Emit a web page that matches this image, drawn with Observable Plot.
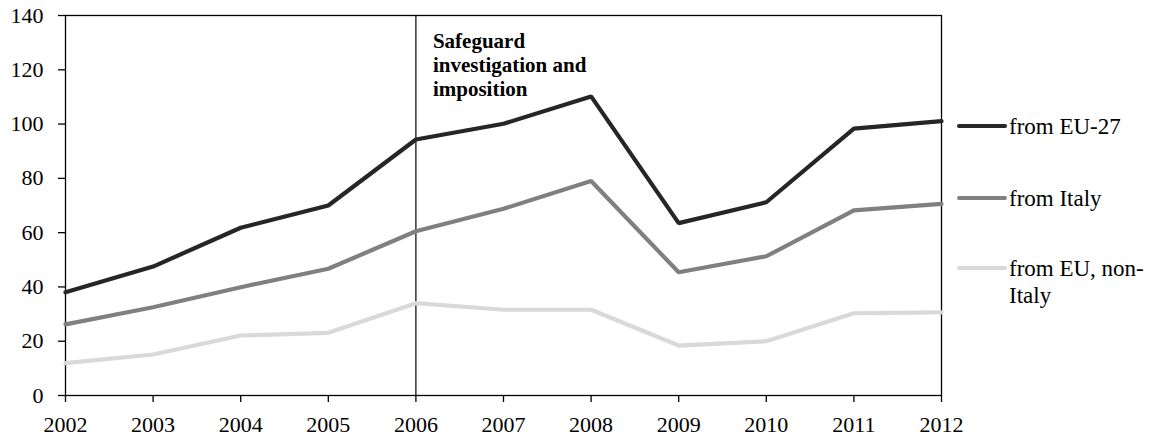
<!DOCTYPE html>
<html>
<head>
<meta charset="utf-8">
<script src="https://cdn.jsdelivr.net/npm/d3@7"></script>
<script src="https://cdn.jsdelivr.net/npm/@observablehq/plot@0.6"></script>
<style>
  body { margin: 0; background: #fff; }
  #wrap { position: relative; width: 1154px; height: 439px; font-family: "Liberation Serif", "Times New Roman", serif; }
  .leg { position: absolute; left: 957px; display: flex; align-items: flex-start; font-size: 23px; line-height: 27px; color: #000; }
  .leg .sw { width: 50px; height: 4px; margin-top: 11px; margin-right: 2px; border-radius: 2px; flex: none; }
  .leg .tx { width: 145px; }
</style>
</head>
<body>
<div id="wrap"></div>
<script>
const years = [2002, 2003, 2004, 2005, 2006, 2007, 2008, 2009, 2010, 2011, 2012];
const eu27 = [38.0, 47.5, 61.8, 70.0, 94.3, 100.1, 110.2, 63.5, 71.2, 98.3, 101.1];
const italy = [26.2, 32.5, 39.9, 46.7, 60.5, 68.8, 79.0, 45.4, 51.3, 68.2, 70.6];
const nonItaly = [11.9, 15.1, 22.1, 23.1, 34.0, 31.6, 31.6, 18.4, 20.0, 30.3, 30.6];
const seriesNames = ["from EU-27", "from Italy", "from EU, non-Italy"];
const seriesColors = ["#262626", "#808080", "#d9d9d9"];
const yTicks = [0, 20, 40, 60, 80, 100, 120, 140];
const eventYear = 2006;
const eventLabel = "Safeguard\ninvestigation and\nimposition";

const seriesValues = [eu27, italy, nonItaly];
const rows = [];
seriesNames.forEach((name, i) => {
  years.forEach((yr, j) => rows.push({series: name, year: yr, value: seriesValues[i][j]}));
});

const font = '"Liberation Serif", "Times New Roman", serif';
const chart = Plot.plot({
  width: 1154,
  height: 439,
  marginLeft: 65,
  marginRight: 213,
  marginTop: 15,
  marginBottom: 44,
  style: {fontFamily: font, fontSize: "22px", color: "#000", background: "#fff"},
  x: {type: "linear", domain: [2002, 2012]},
  y: {domain: [0, 140]},
  color: {domain: seriesNames, range: seriesColors},
  marks: [
    Plot.frame({stroke: "#000", strokeWidth: 1.3}),
    Plot.ruleX([eventYear], {stroke: "#000", strokeWidth: 1.2}),
    Plot.text([eventYear], {x: d => d, frameAnchor: "top", text: () => eventLabel, textAnchor: "start", lineAnchor: "top", dx: 17, dy: 15, fontWeight: "bold", fontSize: 21, lineHeight: 1.15, fill: "#000"}),
    [...seriesNames].reverse().map(name =>
      Plot.line(rows.filter(r => r.series === name), {x: "year", y: "value", stroke: seriesColors[seriesNames.indexOf(name)], strokeWidth: 4.2, strokeLinejoin: "miter"})
    ),
    Plot.axisY({ticks: yTicks, tickSize: 7, tickPadding: 15, label: null, fontSize: 22, stroke: "#000", strokeWidth: 1.3}),
    Plot.axisX({ticks: years, tickFormat: d => String(d), tickSize: 7, tickPadding: 14, label: null, fontSize: 22, stroke: "#000", strokeWidth: 1.3})
  ]
});

const wrap = document.getElementById("wrap");
wrap.appendChild(chart);

const legendTops = [113, 185, 255];
seriesNames.forEach((name, i) => {
  const item = document.createElement("div");
  item.className = "leg";
  item.style.top = legendTops[i] + "px";
  const sw = document.createElement("div");
  sw.className = "sw";
  sw.style.background = seriesColors[i];
  const tx = document.createElement("div");
  tx.className = "tx";
  tx.textContent = name;
  item.appendChild(sw);
  item.appendChild(tx);
  wrap.appendChild(item);
});
</script>
</body>
</html>
